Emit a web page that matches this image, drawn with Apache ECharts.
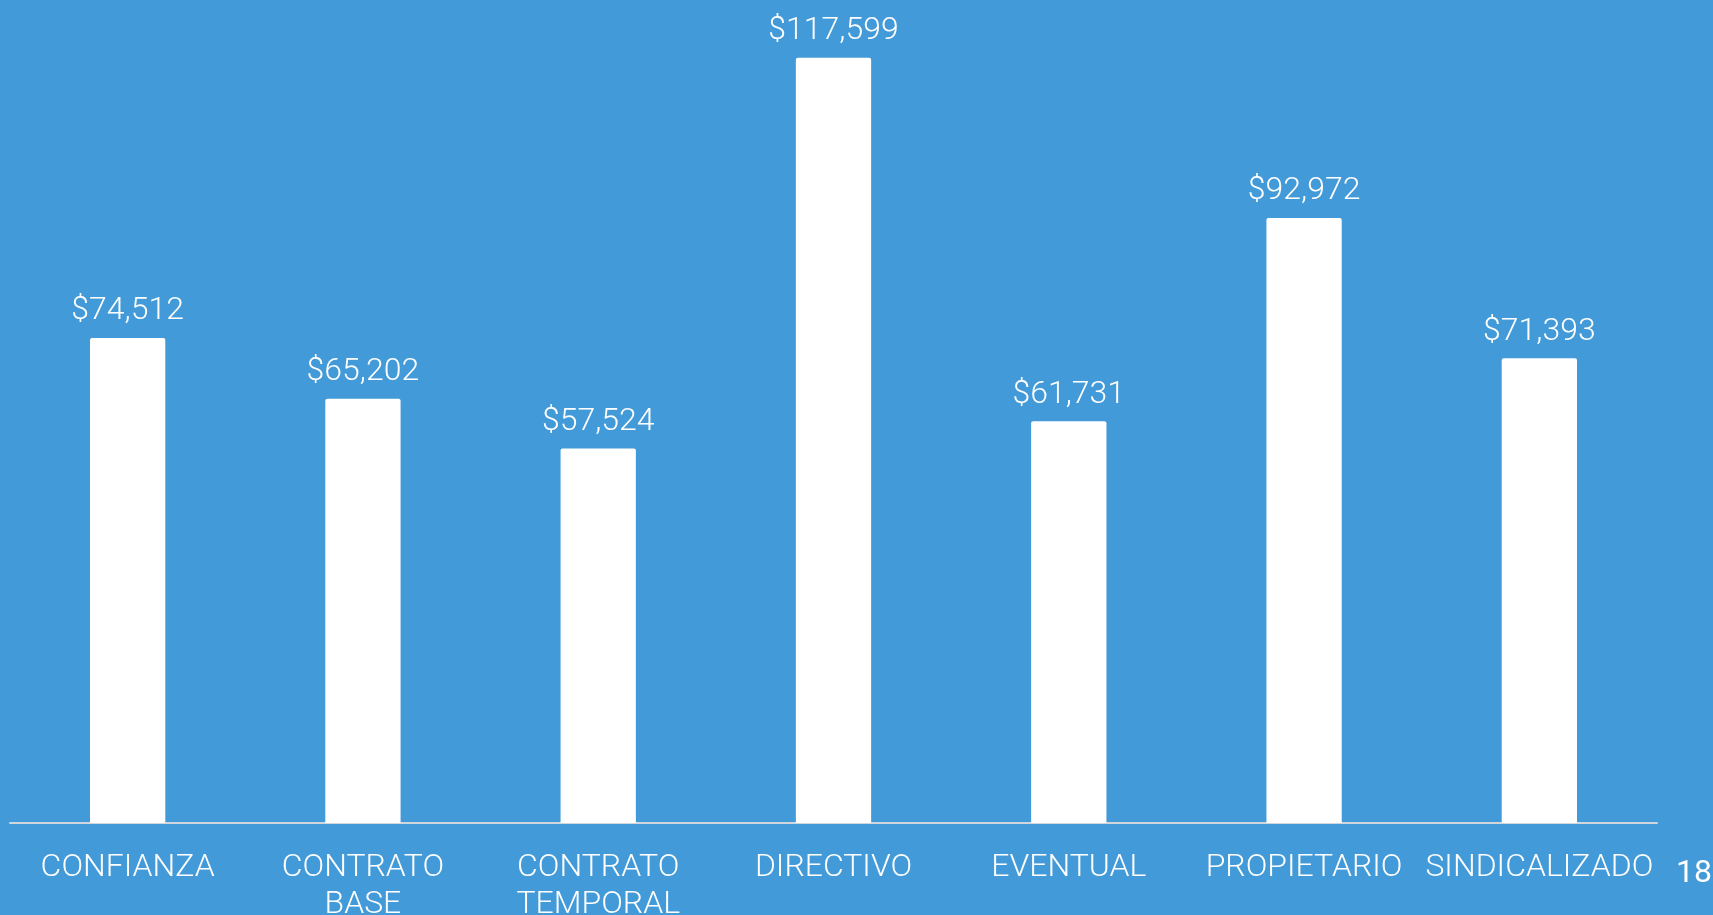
<!DOCTYPE html>
<html>
<head>
<meta charset="utf-8">
<script src="https://cdn.jsdelivr.net/npm/echarts@6/dist/echarts.min.js"></script>
<style>
    html, body { margin: 0; padding: 0; background: #439ad9; }
    #main { width: 1713px; height: 915px; }
</style>
</head>
<body>
<div id="main"></div>
<script>
    var categories = ['CONFIANZA', 'CONTRATO\nBASE', 'CONTRATO\nTEMPORAL', 'DIRECTIVO', 'EVENTUAL', 'PROPIETARIO', 'SINDICALIZADO'];
    var salaries = [74512, 65202, 57524, 117599, 61731, 92972, 71393];
    var pageNumber = '18';

    var myChart = echarts.init(document.getElementById('main'));

    var option = {
        backgroundColor: '#439ad9',
        textStyle: {fontFamily: '"Roboto Light", Roboto', color: '#fff'},
        grid: {left: 10, right: 56, top: 42, bottom: 92, outerBoundsMode: 'none'},
        xAxis: {
            type: 'category',
            data: categories,
            axisTick: {show: false},
            axisLine: {lineStyle: {color: '#cfd6dc', width: 2}},
            axisLabel: {
                interval: 0,
                color: '#fff',
                fontSize: 32,
                fontWeight: 300,
                fontFamily: '"Roboto Light", Roboto',
                lineHeight: 37,
                margin: 25
            }
        },
        yAxis: {
            type: 'value',
            min: 0,
            max: 120000,
            show: false
        },
        series: [{
            type: 'bar',
            data: salaries,
            barWidth: '32%',
            itemStyle: {color: '#fff', borderRadius: [2, 2, 0, 0]},
            label: {
                show: true,
                position: 'top',
                distance: 12,
                color: '#fff',
                fontSize: 32,
                fontWeight: 300,
                fontFamily: '"Roboto Light", Roboto',
                formatter: function (p) {
                    return '$' + p.value.toLocaleString('en-US');
                }
            }
        }],
        graphic: [{
            type: 'text',
            left: 1676,
            top: 858,
            style: {text: pageNumber, fill: '#fff', fontSize: 32, fontFamily: 'Roboto'}
        }]
    };

    myChart.setOption(option);
</script>
</body>
</html>
